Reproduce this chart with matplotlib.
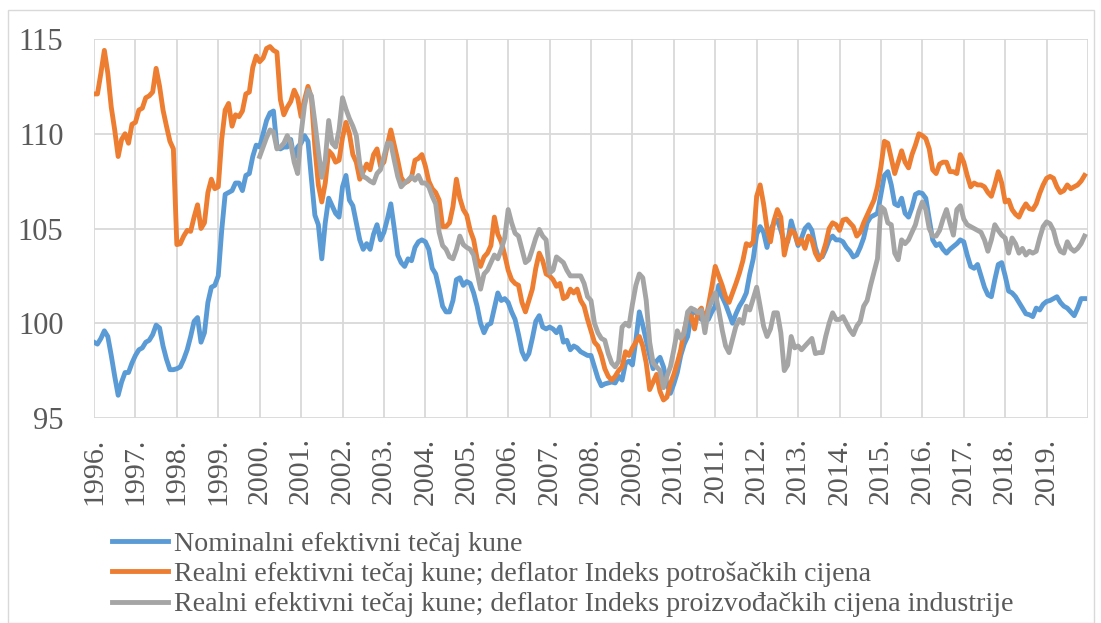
import numpy as np
import matplotlib
matplotlib.use("Agg")
import matplotlib.pyplot as plt
from matplotlib.patches import Rectangle

plt.rcParams["font.family"] = ["Liberation Serif", "DejaVu Serif"]

# ---- Data: monthly indices, Jan 1996 - Dec 2019 ----
years = list(range(1996, 2020))

nominal = [
    99.0, 98.9, 99.2, 99.6, 99.3, 98.3, 97.2, 96.2, 96.9, 97.4, 97.4, 97.9,
    98.3, 98.6, 98.7, 99.0, 99.1, 99.4, 99.9, 99.75, 98.8, 98.1, 97.55, 97.55,
    97.6, 97.7, 98.1, 98.6, 99.3, 100.1, 100.3, 99.0, 99.5, 101.1, 101.9, 102.0,
    102.5, 104.9, 106.8, 106.9, 107.0, 107.4, 107.4, 107.0, 107.8, 107.9, 108.8, 109.4,
    109.3, 110.0, 110.7, 111.1, 111.2, 109.3, 109.2, 109.3, 109.3, 109.7, 108.7, 109.3,
    109.5, 109.9, 109.6, 107.6, 105.7, 105.2, 103.4, 105.3, 106.6, 106.2, 105.8, 105.6,
    107.2, 107.8, 106.5, 106.2, 105.3, 104.4, 103.9, 104.2, 103.9, 104.7, 105.2, 104.4,
    104.8, 105.5, 106.3, 105.0, 103.6, 103.2, 103.0, 103.4, 103.3, 104.0, 104.3, 104.4,
    104.3, 103.9, 102.9, 102.6, 101.8, 100.9, 100.6, 100.6, 101.2, 102.3, 102.4, 102.0,
    102.2, 102.1, 101.6, 100.9, 100.0, 99.5, 99.9, 100.0, 100.8, 101.6, 101.2, 101.3,
    101.1, 100.6, 100.2, 99.4, 98.5, 98.1, 98.4, 99.2, 100.1, 100.4, 99.8, 99.7,
    99.8, 99.7, 99.5, 99.8, 99.0, 99.1, 98.6, 98.8, 98.7, 98.5, 98.4, 98.3,
    98.3, 97.7, 97.1, 96.7, 96.8, 96.85, 96.9, 96.85, 97.2, 97.0, 97.9, 98.0,
    97.8, 99.1, 100.6, 99.9, 99.1, 98.3, 97.6, 98.0, 98.2, 97.7, 96.8, 96.3,
    96.8, 97.4, 98.3, 98.9, 99.3, 100.4, 100.7, 100.4, 100.2, 100.5, 100.2, 100.6,
    100.9, 102.0, 101.4, 101.0, 100.5, 100.0, 100.5, 100.9, 101.2, 101.6, 102.6, 103.4,
    104.7, 105.1, 104.8, 104.0, 104.9, 105.3, 105.45, 104.9, 104.3, 104.3, 105.4, 104.75,
    104.1, 104.5, 105.0, 105.2, 104.9, 104.0, 103.45, 103.5, 103.9, 104.4, 104.6, 104.4,
    104.4, 104.3, 104.0, 103.8, 103.5, 103.6, 104.0, 104.5, 105.3, 105.6, 105.7, 105.8,
    106.8, 107.8, 108.0, 107.3, 106.3, 106.2, 106.6, 105.8, 105.6, 106.1, 106.8, 106.9,
    106.85, 106.6, 105.5, 104.4, 104.1, 104.2, 103.9, 103.7, 103.9, 104.05, 104.2, 104.4,
    104.3, 103.6, 103.0, 102.9, 103.1, 102.5, 101.9, 101.5, 101.4, 102.3, 103.1, 103.2,
    102.5, 101.7, 101.6, 101.4, 101.1, 100.8, 100.5, 100.45, 100.35, 100.8, 100.7, 101.0,
    101.15, 101.2, 101.3, 101.4, 101.1, 100.9, 100.8, 100.6, 100.4, 100.8, 101.3, 101.3,
]

real_cpi = [
    112.1, 112.1, 113.2, 114.4, 113.2, 111.4, 110.2, 108.8, 109.7, 110.0, 109.5, 110.5,
    110.6, 111.25, 111.35, 111.9, 112.0, 112.2, 113.45, 112.5, 111.25, 110.4, 109.6, 109.2,
    104.15, 104.2, 104.6, 104.9, 104.85, 105.6, 106.25, 105.0, 105.3, 106.9, 107.6, 107.1,
    107.2, 109.7, 111.25, 111.6, 110.4, 111.0, 110.9, 111.2, 112.1, 112.2, 113.5, 114.1,
    113.8, 114.0, 114.5, 114.6, 114.4, 114.3, 111.8, 111.0, 111.4, 111.7, 112.3, 111.9,
    110.9, 111.8, 112.5, 111.9, 109.3, 107.3, 106.4, 107.4, 109.1, 108.9, 108.5, 108.6,
    109.8, 110.6, 110.0, 108.9, 108.5, 107.6, 108.0, 108.4, 108.1, 108.9, 109.2, 108.3,
    108.5, 109.4, 110.2, 109.4, 108.6, 107.7, 107.4, 107.5, 107.7, 108.6, 108.7, 108.9,
    108.3, 107.5, 107.1, 106.9, 106.5, 105.1, 105.1, 105.3, 106.15, 107.6, 106.6, 106.0,
    105.7, 104.9, 104.4, 103.4, 103.0, 103.5, 103.7, 104.1, 105.6, 104.7, 104.3, 103.6,
    102.8, 102.3, 102.1, 102.0, 101.1, 100.6, 101.2, 101.8, 102.9, 103.7, 103.3, 102.6,
    102.5, 102.3, 101.95, 102.1, 101.3, 101.4, 101.8, 101.6, 101.8, 101.2, 100.9, 100.2,
    99.6, 99.0, 98.8, 98.3, 97.6, 97.2, 97.0, 97.2, 97.5, 97.7, 98.5, 98.3,
    98.7, 99.0, 99.3, 98.8, 97.9, 96.5, 96.9, 97.3, 96.4, 95.95, 96.1, 96.8,
    97.3, 97.9, 98.6, 99.6, 100.4, 100.4, 99.7, 100.6, 100.8, 100.0, 100.9, 101.9,
    103.0, 102.5, 102.0, 101.4, 101.1, 101.6, 102.1, 102.65, 103.3, 104.2, 104.1, 104.3,
    106.7, 107.3, 106.3, 105.0, 104.3, 105.4, 106.0, 105.6, 103.6, 104.4, 104.9, 104.75,
    104.2, 104.4, 103.95, 104.6, 104.4, 103.7, 103.35, 103.6, 104.2, 105.0, 105.3, 105.2,
    104.9, 105.45, 105.5, 105.3, 105.1, 104.6, 104.8, 105.3, 105.7, 106.1, 106.5, 107.2,
    108.25, 109.6, 109.5, 108.7, 107.9, 108.5, 109.1, 108.5, 108.2, 108.9, 109.4, 110.0,
    109.9, 109.75, 109.2, 108.1, 107.9, 108.4, 108.5, 108.5, 108.0, 108.0, 107.9, 108.9,
    108.5, 107.8, 107.2, 107.4, 107.3, 107.3, 107.2, 106.9, 106.7, 107.3, 108.0, 107.4,
    106.4, 106.5, 106.0, 105.75, 105.6, 106.0, 106.3, 106.05, 106.0, 106.3, 106.85, 107.3,
    107.65, 107.75, 107.65, 107.2, 106.9, 107.0, 107.3, 107.1, 107.2, 107.3, 107.5, 107.8,
]

# PPI-deflated series starts in January 2000
ppi_start = 2000
real_ppi = [
    108.8, 109.3, 109.8, 110.2, 110.1, 109.2, 109.3, 109.5, 109.9, 109.5, 108.5, 107.9,
    110.0, 111.5, 112.3, 112.0, 110.6, 109.1, 107.7, 108.6, 110.7, 109.5, 109.3, 110.2,
    111.9, 111.3, 110.8, 110.4, 109.9, 108.4, 107.75, 107.65, 107.5, 107.4, 107.9, 108.1,
    108.8, 109.5, 109.5, 108.6, 107.75, 107.2, 107.4, 107.55, 107.75, 107.55, 107.8, 107.4,
    107.4, 107.2, 106.7, 106.3, 104.8, 104.1, 103.9, 103.5, 103.4, 103.9, 104.6, 104.15,
    104.0, 103.9, 103.6, 102.7, 101.8, 102.6, 102.8, 103.2, 103.6, 103.4, 103.9, 104.5,
    106.0, 105.3, 104.75, 104.6, 103.9, 103.2, 103.35, 103.9, 104.5, 104.95, 104.6, 104.4,
    102.65, 102.8, 103.5, 103.35, 103.2, 102.8, 102.5, 102.5, 102.5, 102.5, 102.1, 101.4,
    101.2, 100.0, 99.5, 99.2, 99.1, 98.4, 97.9, 97.7, 98.0, 99.8, 100.0, 99.85,
    101.0, 102.0, 102.6, 102.4, 101.2, 99.0, 97.9, 97.7, 97.5, 96.6, 97.2, 97.7,
    98.6, 99.6, 99.2, 99.5, 100.6, 100.8, 100.7, 100.55, 100.7, 99.5, 100.7, 101.2,
    101.6, 100.7, 99.65, 98.8, 98.45, 99.15, 99.85, 100.2, 100.0, 100.9, 100.7, 101.3,
    101.9, 100.9, 99.85, 99.3, 99.7, 100.55, 100.55, 99.5, 97.5, 97.8, 99.3, 98.7,
    98.8, 98.6, 98.8, 99.0, 99.2, 98.4, 98.45, 98.45, 99.3, 100.0, 100.55, 100.2,
    100.2, 100.35, 100.0, 99.65, 99.4, 99.85, 100.1, 100.9, 101.2, 102.0, 102.7, 103.4,
    106.15, 106.0, 105.3, 105.2, 103.7, 103.35, 104.4, 104.2, 104.4, 104.8, 105.2, 105.9,
    106.4, 106.0, 105.0, 104.6, 104.6, 104.9, 105.5, 106.0, 105.3, 104.65, 106.0, 106.2,
    105.5, 105.2, 105.1, 105.0, 104.9, 104.8, 104.4, 103.8, 104.4, 105.2, 104.9, 104.65,
    104.5, 103.7, 104.5, 104.2, 103.7, 103.95, 103.6, 103.8, 103.7, 103.8, 104.5, 105.1,
    105.35, 105.25, 104.9, 104.2, 103.8, 103.7, 104.3, 103.95, 103.8, 103.95, 104.2, 104.6,
]

labels = [
    "Nominalni efektivni tečaj kune",
    "Realni efektivni tečaj kune; deflator Indeks potrošačkih cijena",
    "Realni efektivni tečaj kune; deflator Indeks proizvođačkih cijena industrije",
]
colors = ["#5B9BD5", "#ED7D31", "#A5A5A5"]
text_color = "#595959"
grid_color = "#D9D9D9"

# ---- Figure ----
W, H = 1101, 623
fig = plt.figure(figsize=(W / 100, H / 100), dpi=100)
ax = fig.add_axes([94 / W, 1 - 418 / H, 994 / W, 379 / H])

x_all = np.arange(len(nominal))
x_ppi = np.arange(len(real_ppi)) + 12 * (ppi_start - years[0])

lines = []
lines += ax.plot(x_all, nominal, color=colors[0], lw=3.5, solid_joinstyle="round")
lines += ax.plot(x_all, real_cpi, color=colors[1], lw=3.5, solid_joinstyle="round")
lines += ax.plot(x_ppi, real_ppi, color=colors[2], lw=3.5, solid_joinstyle="round")

ax.set_xlim(0, 12 * len(years))
ax.set_ylim(95, 115)
ax.set_yticks([95, 100, 105, 110, 115])
ax.set_xticks(range(0, 12 * len(years) + 1, 12))
ax.set_xticklabels([f"{y}." for y in years] + [""], rotation=90)
ax.grid(True, color=grid_color, lw=1.3)
ax.set_axisbelow(True)
for s in ax.spines.values():
    s.set_visible(False)
ax.tick_params(axis="both", length=0, colors=text_color)
ax.tick_params(axis="y", labelsize=22, pad=22)
ax.tick_params(axis="x", labelsize=21.5, pad=14)

fig.legend(lines, labels, loc="upper left", bbox_to_anchor=(112 / W, 1 - 531 / H),
           frameon=False, fontsize=20.2, handlelength=2.0, handletextpad=0.2,
           labelspacing=0.17, borderpad=0, borderaxespad=0, labelcolor=text_color)

# outer chart border
fig.patches.append(Rectangle((8 / W, 0), (1094 - 8) / W, (H - 10) / H,
                             transform=fig.transFigure, fill=False,
                             edgecolor=grid_color, lw=1.0))

fig.savefig("out.png", dpi=100)
